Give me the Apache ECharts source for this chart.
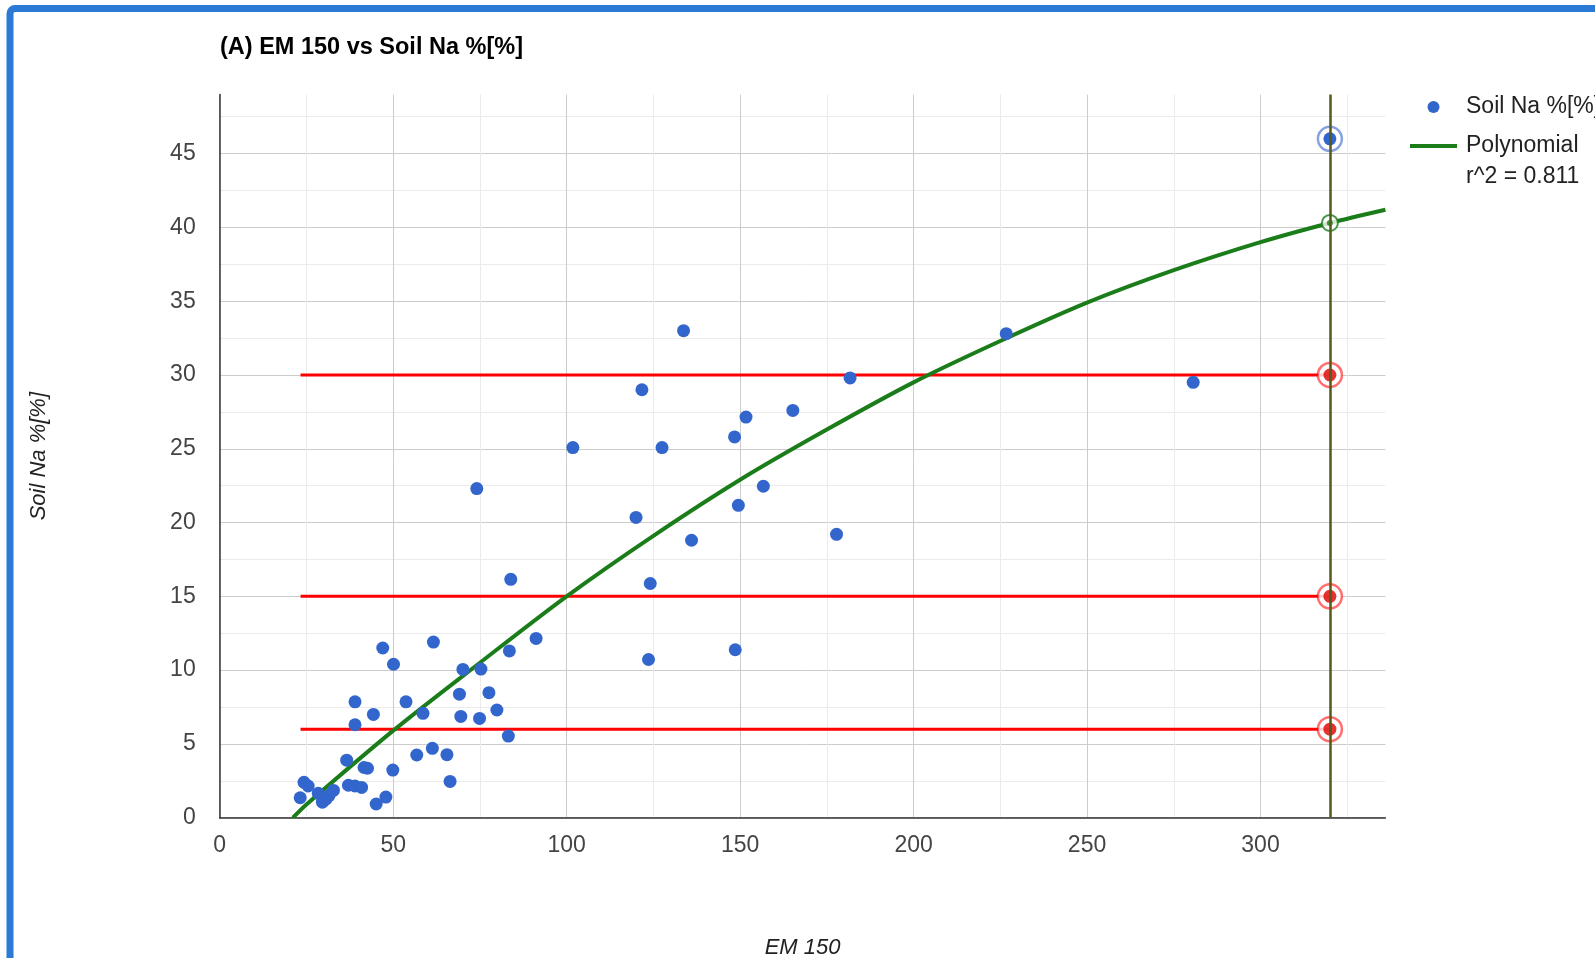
<!DOCTYPE html>
<html>
<head>
<meta charset="utf-8">
<script src="https://cdn.jsdelivr.net/npm/echarts@6/dist/echarts.min.js"></script>
<style>
html, body { margin: 0; padding: 0; background: #ffffff; overflow: hidden; }
#chart { width: 1595px; height: 958px; }
</style>
</head>
<body>
<div id="chart"></div>
<script>
// ---------- texts ----------
const titleText = '(A) EM 150 vs Soil Na %[%]';
const xAxisName = 'EM 150';
const yAxisName = 'Soil Na %[%]';
const scatterName = 'Soil Na %[%]';
const trendName = 'Polynomial';
const trendR2Text = 'r^2 = 0.811';

// ---------- data ----------
const emValues = [23.2, 24.3, 25.5, 28.4, 29.6, 30.6, 31.5, 32.8,
  36.6, 37.1, 39.0, 40.9, 41.6, 42.6,
  39.0, 39.0, 44.3, 47.0, 50.1,
  45.1, 47.9, 49.9,
  53.7, 58.6, 56.8, 61.3, 65.5, 66.4,
  61.6, 70.1, 75.3, 69.1, 77.6, 69.5, 74.9, 79.9, 83.2, 83.5,
  74.1, 83.9, 91.2, 101.8,
  133.7, 121.7, 181.7, 127.5, 151.7, 165.2, 148.4, 156.7, 149.5, 120.0, 136.0, 177.8, 124.1, 123.6, 148.6,
  226.7, 280.6, 320];
const naValues = [1.35, 2.4, 2.15, 1.65, 1.05, 1.25, 1.5, 1.85,
  3.9, 2.2, 2.15, 2.05, 3.4, 3.35,
  7.85, 6.3, 7.0, 11.5, 10.4,
  0.93, 1.4, 3.23,
  7.85, 7.07, 4.25, 4.7, 4.27, 2.46,
  11.9, 10.05, 10.07, 8.37, 8.47, 6.86, 6.73, 7.3, 5.53, 11.3,
  22.3, 16.15, 12.15, 25.08,
  33.0, 29.0, 29.8, 25.08, 27.15, 27.6, 25.8, 22.46, 21.17, 20.35, 18.8, 19.2, 15.87, 10.72, 11.38,
  32.8, 29.5, 46.0];

// polynomial trend line
const trendX = [21.1, 25, 50, 75, 100, 125, 150, 175, 200, 225, 250, 275, 300, 320, 336];
const trendY = [0, 0.9, 5.9, 10.5, 15.0, 19.1, 22.9, 26.3, 29.5, 32.3, 34.9, 37.1, 39.0, 40.3, 41.2];

// horizontal threshold lines
const thresholdLevels = [6, 15, 30];
const thresholdStartX = 23.3;

// crosshair (focused x)
const crosshairX = 320;
const focusSoilNa = 46.0;
const focusTrend = 40.3;

// axes
const xMin = 0, xMax = 336, xStep = 25;
const yMin = 0, yMax = 49, yStep = 2.5;
const xTickLabels = [0, 50, 100, 150, 200, 250, 300];
const yTickLabels = [0, 5, 10, 15, 20, 25, 30, 35, 40, 45];

// ---------- build ----------
const FONT = '"Liberation Sans", Arial, sans-serif';
const scatterData = emValues.map((x, i) => [x, naValues[i]]);
const trendData = trendX.map((x, i) => [x, trendY[i]]);

const redSeries = thresholdLevels.map(lvl => ({
  type: 'line',
  name: 'Level ' + lvl,
  data: [[thresholdStartX, lvl], [crosshairX, lvl]],
  symbol: 'none',
  silent: true,
  animation: false,
  lineStyle: { color: '#ff0000', width: 3 },
  z: 2
}));

const ringData = [
  { value: [crosshairX, focusSoilNa], symbolSize: 24, itemStyle: { color: '#ffffff', borderColor: 'rgba(51,102,204,0.75)', borderWidth: 2.5 } },
  { value: [crosshairX, focusTrend], symbolSize: 16, itemStyle: { color: '#ffffff', borderColor: '#1a7d1a', borderWidth: 2 } }
].concat(thresholdLevels.map(lvl => ({
  value: [crosshairX, lvl], symbolSize: 24,
  itemStyle: { color: '#ffffff', borderColor: 'rgba(255,0,0,0.7)', borderWidth: 2.5 }
})));

const dotData = [
  { value: [crosshairX, focusTrend], symbolSize: 6, itemStyle: { color: '#1a7d1a' } }
].concat(thresholdLevels.map(lvl => ({
  value: [crosshairX, lvl], symbolSize: 13, itemStyle: { color: '#dd0000' }
})));

function gridColors(count) {
  const arr = [];
  for (let i = 0; i < count; i++) arr.push(i % 2 === 0 ? '#cccccc' : '#ebebeb');
  return arr;
}

const option = {
  backgroundColor: '#ffffff',
  animation: false,
  textStyle: { fontFamily: FONT },
  title: {
    text: titleText,
    left: 215,
    top: 31,
    textStyle: { fontFamily: FONT, fontSize: 23.5, fontWeight: 'bold', color: '#000000' }
  },
  legend: {
    orient: 'vertical',
    left: 1405,
    top: 89,
    itemWidth: 47,
    itemHeight: 12,
    itemGap: 13,
    data: [
      { name: scatterName, icon: 'circle' },
      { name: trendName, icon: 'path://M0,0h47v4h-47z' }
    ],
    textStyle: { fontFamily: FONT, fontSize: 23, color: '#222222', lineHeight: 26, padding: [0, 0, 0, 4] },
    selectedMode: false
  },
  graphic: [
    {
      type: 'rect',
      shape: { x: 10, y: 8.5, width: 2400, height: 2400, r: 5 },
      style: { fill: 'none', stroke: '#2b7bd6', lineWidth: 7 },
      silent: true, z: 100
    },
    {
      type: 'text',
      left: 1466,
      top: 165,
      style: { text: trendR2Text, font: '23px ' + FONT, fill: '#222222' },
      silent: true
    }
  ],
  grid: { left: 219.7, top: 94.6, width: 1165.7, height: 723.1, containLabel: false, outerBoundsMode: 'none' },
  xAxis: {
    type: 'value',
    min: xMin, max: xMax, interval: xStep,
    name: xAxisName,
    nameLocation: 'middle',
    nameGap: 119,
    nameTextStyle: { fontFamily: FONT, fontSize: 22, fontStyle: 'italic', color: '#222222' },
    axisLine: { show: true, onZero: false, lineStyle: { color: '#333333', width: 1.5 } },
    axisTick: { show: false },
    axisLabel: {
      fontFamily: FONT, fontSize: 23, color: '#444444', margin: 16,
      showMaxLabel: false,
      formatter: v => (xTickLabels.indexOf(v) >= 0 ? String(v) : '')
    },
    splitLine: { show: true, showMaxLine: false, lineStyle: { color: gridColors(20), width: 1 } }
  },
  yAxis: {
    type: 'value',
    min: yMin, max: yMax, interval: yStep,
    name: yAxisName,
    nameLocation: 'middle',
    nameGap: 170,
    nameTextStyle: { fontFamily: FONT, fontSize: 22, fontStyle: 'italic', color: '#222222' },
    axisLine: { show: true, onZero: false, lineStyle: { color: '#333333', width: 1.5 } },
    axisTick: { show: false },
    axisLabel: {
      fontFamily: FONT, fontSize: 23, color: '#444444', margin: 24,
      showMaxLabel: false,
      formatter: v => (yTickLabels.indexOf(v) >= 0 ? String(v) : '')
    },
    splitLine: { show: true, showMaxLine: false, lineStyle: { color: gridColors(30), width: 1 } }
  },
  series: redSeries.concat([
    {
      type: 'line',
      name: trendName,
      data: trendData,
      smooth: 0.3,
      symbol: 'none',
      silent: true,
      lineStyle: { color: '#1a7d1a', width: 4 },
      itemStyle: { color: '#1a7d1a' },
      z: 3
    },
    {
      type: 'scatter',
      name: 'focus rings',
      data: ringData,
      symbol: 'circle',
      silent: true,
      z: 5
    },
    {
      type: 'scatter',
      name: 'focus dots',
      data: dotData,
      symbol: 'circle',
      silent: true,
      z: 6
    },
    {
      type: 'scatter',
      name: scatterName,
      data: scatterData,
      symbol: 'circle',
      symbolSize: 13,
      itemStyle: { color: '#3366cc', opacity: 1 },
      z: 6,
      markLine: {
        silent: true,
        symbol: ['none', 'none'],
        label: { show: false },
        lineStyle: { color: '#55591a', width: 2.5, type: 'solid' },
        data: [{ xAxis: crosshairX }],
        z: 8
      }
    }
  ])
};

const chart = echarts.init(document.getElementById('chart'), null, { renderer: 'canvas' });
chart.setOption(option);
</script>
</body>
</html>
